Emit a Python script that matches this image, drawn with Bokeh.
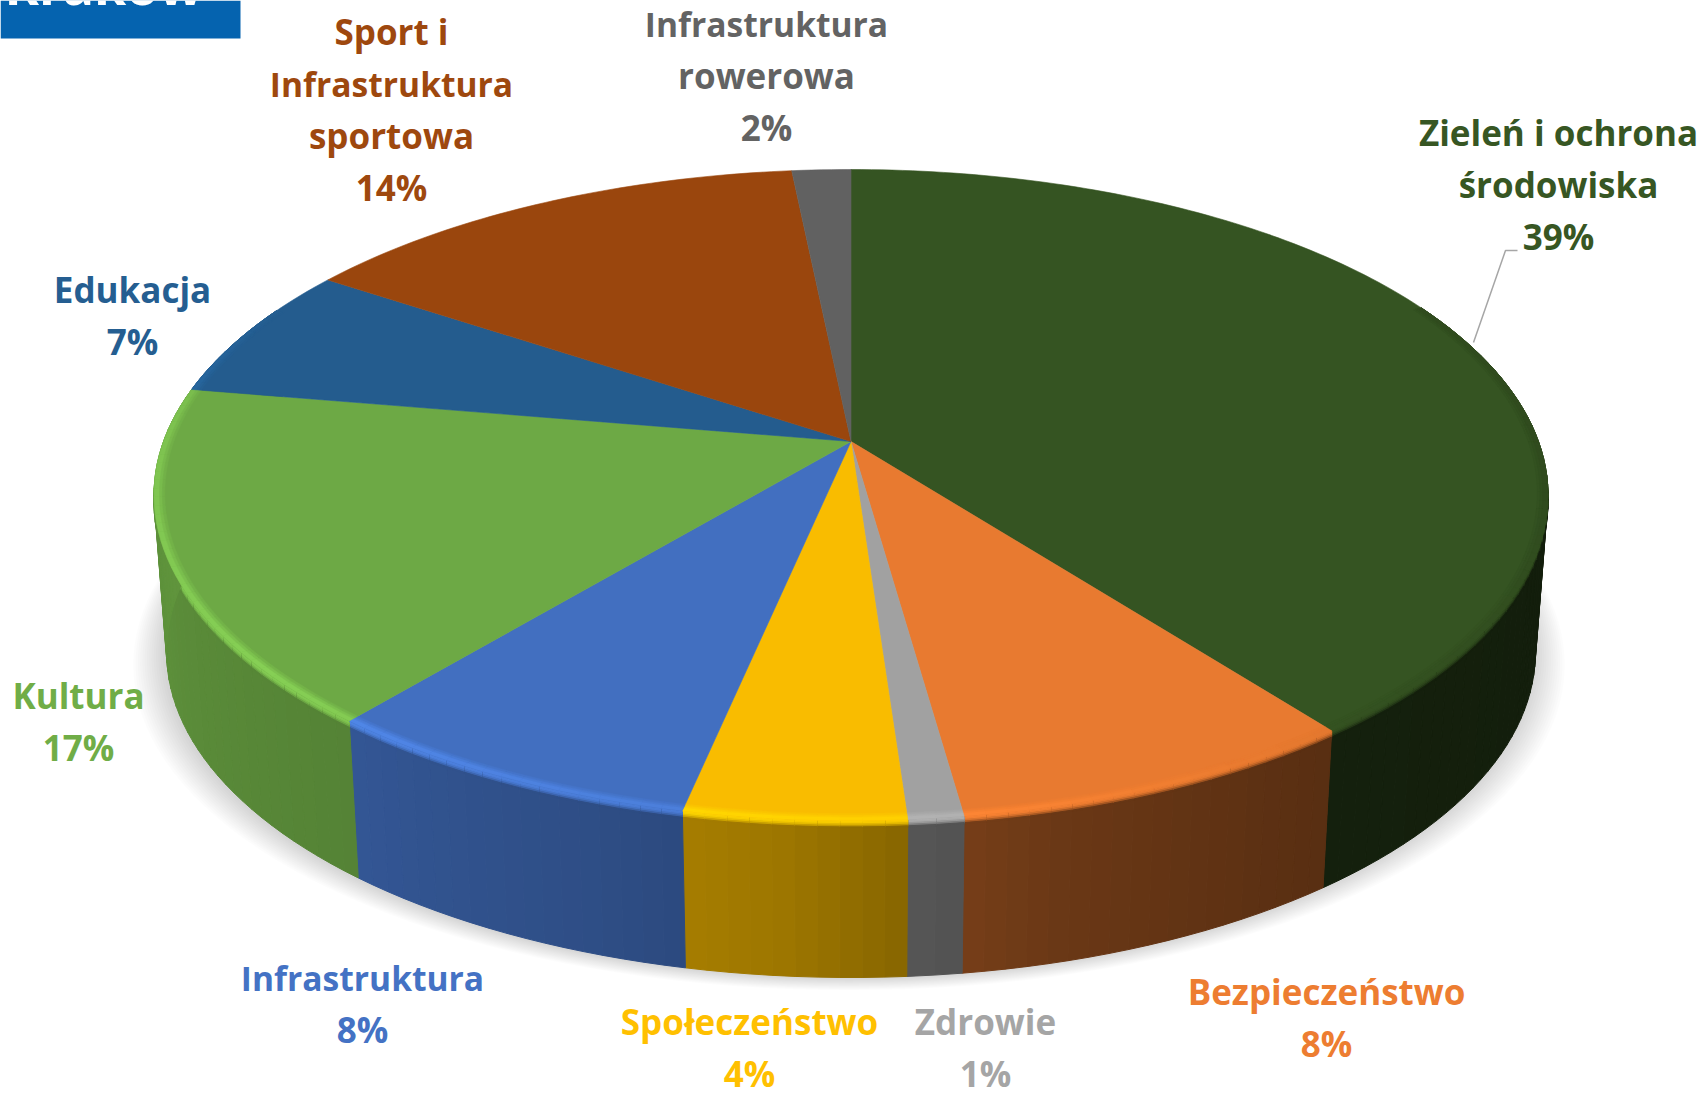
import numpy as np
from bokeh.plotting import figure
from bokeh.core.properties import value
from bokeh.embed import file_html
from bokeh.resources import INLINE

# ---- data ----
categories = ["Zieleń i ochrona środowiska", "Bezpieczeństwo", "Zdrowie", "Społeczeństwo",
              "Infrastruktura", "Kultura", "Edukacja", "Sport i Infrastruktura sportowa",
              "Infrastruktura rowerowa"]
shares = [39.6, 8.2, 1.1, 4.4, 7.7, 16.7, 6.7, 14.0, 1.6]
percent_labels = ["39%", "8%", "1%", "4%", "8%", "17%", "7%", "14%", "2%"]
label_lines = [["Zieleń i ochrona", "środowiska"], ["Bezpieczeństwo"], ["Zdrowie"], ["Społeczeństwo"],
               ["Infrastruktura"], ["Kultura"], ["Edukacja"], ["Sport i", "Infrastruktura", "sportowa"],
               ["Infrastruktura", "rowerowa"]]
colors = ["#375623", "#ED7D31", "#A5A5A5", "#FFC000", "#4472C4", "#70AD47", "#255E91", "#9E480E", "#636363"]
label_x = [1558, 1326, 985, 749, 362, 78, 132, 391, 766]
label_first_y = [132, 991, 1021, 1021, 977, 695, 289, 31, 23]

# ---- layout ----
W, H = 1706, 1097
LINE = 52
CX, CY = 850.5, 441.0
A, B, K = 687.5, 316.7, 0.1644
BEVEL, DEPTH, SHRINK = 8.0, 157.0, 0.982

p = figure(width=W, height=H, x_range=(0, W), y_range=(H, 0), output_backend="svg",
           toolbar_location=None, min_border=0, outline_line_color=None, background_fill_color="white")
p.axis.visible = False
p.grid.visible = False


def rim(theta_deg, r=1.0):
    t = np.radians(theta_deg)
    u, v = r * np.sin(t), r * np.cos(t)
    w = 1 + K * v
    return CX + A * u / w, CY - B * v / w


def shade(hex_color, f):
    rgb = [int(hex_color[i:i + 2], 16) for i in (1, 3, 5)]
    return "#%02x%02x%02x" % tuple(int(np.clip(c * f, 0, 255)) for c in rgb)


def mix(c1, c2, a):
    r1 = [int(c1[i:i + 2], 16) for i in (1, 3, 5)]
    r2 = [int(c2[i:i + 2], 16) for i in (1, 3, 5)]
    return "#%02x%02x%02x" % tuple(int(x + (y - x) * a) for x, y in zip(r1, r2))


def wall_factor(theta):
    return float(np.interp(theta, [60, 90, 145, 165, 175, 185, 200, 220, 270, 300],
                           [.34, .34, .38, .45, .52, .62, .69, .76, .86, .86]))


def glow(theta):
    return float(np.interp(theta, [100, 140, 175, 230, 275, 295], [-.12, -.05, .08, .2, .12, 0]))


# soft shadow under the pie
th = np.linspace(0, 360, 181)
sx, sy = rim(th)
for grow in np.linspace(32, 2, 14):
    sc = SHRINK * (1 + grow / 697)
    p.patch(CX - 2 + (sx - CX) * sc, sy + DEPTH + grow * .4,
            fill_color="#000000", fill_alpha=0.011, line_color=None)

edges = np.concatenate([[0], np.cumsum(shares)]) / np.sum(shares) * 360

# walls with the bevel along their top, then the bevel's inner part on the face
xs, ys, fc = [], [], []
ring_x, ring_y, ring_c = [], [], []
RINGS = [(.985, .989, .3), (.989, .993, .65), (.993, 1.0, 1.0)]
for start, end, col in zip(edges[:-1], edges[1:], colors):
    face = shade(col, .98)
    n = max(2, int((end - start) / 1.5))
    ang = np.linspace(start, end, n + 1)
    for a0, a1 in zip(ang[:-1], ang[1:]):
        mid = (a0 + a1) / 2
        if np.cos(np.radians(mid)) > 0.45:
            continue
        x, y = rim(np.array([a0, a1]))
        wall = shade(col, wall_factor(mid))
        xb = CX + (x - CX) * SHRINK
        xs.append([x[0], x[1], xb[1], xb[0]])
        ys.append([y[0], y[1], y[1] + DEPTH, y[0] + DEPTH])
        fc.append(wall)
        light = shade(col, 1 + glow(mid))
        steps = np.linspace(0, BEVEL, 6)
        for i, (z0, z1) in enumerate(zip(steps[:-1], steps[1:])):
            xs.append([x[0], x[1], x[1], x[0]])
            ys.append([y[0] + z0, y[1] + z0, y[1] + z1, y[0] + z1])
            fc.append(mix(light, wall, (i / 4) ** 2))
        for r0, r1, a in RINGS:
            xi, yi = rim(np.array([a0, a1]), r0)
            xo, yo = rim(np.array([a0, a1]), r1)
            ring_x.append([xi[0], xi[1], xo[1], xo[0]])
            ring_y.append([yi[0], yi[1], yo[1], yo[0]])
            ring_c.append(mix(face, light, a))
p.patches(xs, ys, fill_color=fc, line_color=fc, line_width=1)

# top faces
for start, end, col in zip(edges[:-1], edges[1:], colors):
    ang = np.linspace(start, end, max(3, int(end - start) + 2))
    x, y = rim(ang)
    face = shade(col, .98)
    p.patch(np.r_[CX, x], np.r_[CY, y], fill_color=face, line_color=face, line_width=0.6)
p.patches(ring_x, ring_y, fill_color=ring_c, line_color=ring_c, line_width=0.5)

# leader line of the largest slice
p.line([1473, 1505, 1517], [342, 250, 250], line_color="#a6a6a6", line_width=1.5)

# blue block of the page behind the chart, with the foot of its word
p.quad(left=[0], right=[240], top=[0], bottom=[38], fill_color="#0563AF", line_color=None)
p.text(x=[4], y=[-16], text=["Kraków"], text_color="#ffffff", text_font=value("Open Sans"),
       text_font_style="bold", text_font_size="52px", text_align="left", text_baseline="alphabetic")

# labels
for lines, pct, x, y0, col in zip(label_lines, percent_labels, label_x, label_first_y, colors):
    rows = lines + [pct]
    for i, row in enumerate(rows):
        size = "33.6px" if row == "Infrastruktura" else "35px"
        p.text(x=[x], y=[y0 + i * LINE], text=[row],
               text_color=col, text_font=value("Open Sans"), text_font_style="bold", text_font_size=size,
               text_align="center", text_baseline="middle")

open("out.html", "w").write(file_html(p, INLINE))
